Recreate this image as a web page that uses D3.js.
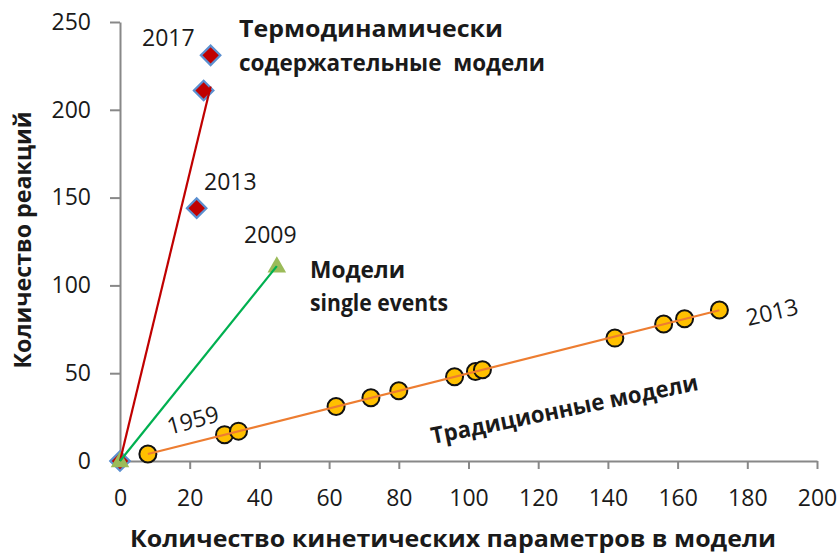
<!DOCTYPE html>
<html><head><meta charset="utf-8">
<script src="https://cdn.jsdelivr.net/npm/d3@7"></script>
<style>
body{margin:0;background:#fff}
text{font-family:"Open Sans","Noto Sans",sans-serif;fill:#1a1a1a;white-space:pre}
</style>
</head><body>
<svg id="c" width="839" height="554"></svg>
<script>
// ---- data ----
const xTicks = [0,20,40,60,80,100,120,140,160,180,200];
const yTicks = [0,50,100,150,200,250];
const tradX = [8,30,34,62,72,80,96,102,104,142,156,162,172];
const tradY = [4,15,17,31,36,40,48,51,52,70,78,81,86];
const thermoX = [0,22,24,26];
const thermoY = [0,144,211,231];
const singleX = [0,45];
const singleY = [0,111];
const xTitle = "Количество кинетических параметров в модели";
const yTitle = "Количество реакций";

const svg = d3.select("#c");
const x = d3.scaleLinear().domain([0,200]).range([120,817]);
const y = d3.scaleLinear().domain([0,250]).range([461,22]);
const axisColor = "#888888";

// axes
const gx = svg.append("g").attr("transform","translate(0,461)")
  .call(d3.axisBottom(x).tickValues(xTicks).tickSize(8).tickSizeOuter(0).tickPadding(21));
const gy = svg.append("g").attr("transform","translate(120,0)")
  .call(d3.axisLeft(y).tickValues(yTicks).tickSize(10).tickSizeOuter(0).tickPadding(19));
[gx,gy].forEach(g=>{
  g.select(".domain").attr("stroke",axisColor).attr("stroke-width",2);
  g.selectAll(".tick line").attr("stroke",axisColor).attr("stroke-width",2);
  g.selectAll(".tick text").attr("font-size",23).attr("fill","#1a1a1a")
    .attr("font-family","'Open Sans',sans-serif");
});

// regression through origin, drawn over series x-range
function trend(xs, ys){
  let sxy=0, sxx=0;
  xs.forEach((v,i)=>{sxy+=v*ys[i]; sxx+=v*v;});
  const k = sxy/sxx;
  const x0 = d3.min(xs), x1 = d3.max(xs);
  return [[x0,k*x0],[x1,k*x1]];
}
const line = d3.line().x(d=>x(d[0])).y(d=>y(d[1]));

// markers
const trad = tradX.map((v,i)=>[v,tradY[i]]);
const thermo = thermoX.map((v,i)=>[v,thermoY[i]]);
const single = singleX.map((v,i)=>[v,singleY[i]]);

svg.append("g").selectAll("circle").data(trad).join("circle")
  .attr("cx",d=>x(d[0])).attr("cy",d=>y(d[1])).attr("r",8.5)
  .attr("fill","#FFC000").attr("stroke","#111").attr("stroke-width",2);

const diamond = d3.symbol().type(d3.symbolSquare).size(190);
svg.append("g").selectAll("path").data(thermo).join("path")
  .attr("d",diamond())
  .attr("transform",d=>`translate(${x(d[0])},${y(d[1])}) rotate(45)`)
  .attr("fill","#C00000").attr("stroke","#5B8FD0").attr("stroke-width",2.2);

const tri = d3.symbol().type(d3.symbolTriangle).size(150);
svg.append("g").selectAll("path").data(single).join("path")
  .attr("d",tri())
  .attr("transform",d=>`translate(${x(d[0])},${y(d[1])+1})`)
  .attr("fill","#9BBB59");

// trend lines
svg.append("path").datum(trend(tradX,tradY)).attr("d",line)
  .attr("stroke","#ED7D31").attr("stroke-width",2.2).attr("fill","none");
svg.append("path").datum(trend(thermoX,thermoY)).attr("d",line)
  .attr("stroke","#C00000").attr("stroke-width",2.2).attr("fill","none");
svg.append("path").datum(single).attr("d",line)
  .attr("stroke","#00B050").attr("stroke-width",2.2).attr("fill","none");

// annotations
function txt(t,px,py,opts={}){
  const e = svg.append("text").attr("x",px).attr("y",py).text(t)
    .attr("font-size",opts.size||23)
    .attr("font-weight",opts.bold?"bold":"normal")
    .attr("text-anchor",opts.anchor||"start");
  if(opts.rot!==undefined) e.attr("transform",`rotate(${opts.rot},${px},${py})`);
  if(opts.len) e.attr("textLength",opts.len).attr("lengthAdjust","spacingAndGlyphs");
  return e;
}
txt("2017",142,46);
txt("2013",204,190);
txt("2009",244,243);
txt("Термодинамически",239,37,{bold:true,size:23,len:264});
txt("содержательные  модели",239,71,{bold:true,size:23,len:306});
txt("Модели",310,278,{bold:true,size:23,len:95});
txt("single events",310,311,{bold:true,size:23,len:138});
txt("1959",195,428,{anchor:"middle",rot:-15});
txt("2013",774,320,{anchor:"middle",rot:-13});
txt("Традиционные модели",566,417,{anchor:"middle",rot:-11.5,bold:true,size:23,len:272});

// axis titles
txt(xTitle,453,547,{anchor:"middle",bold:true,size:23,len:646});
svg.append("text").text(yTitle)
  .attr("transform","translate(31,240) rotate(-90)")
  .attr("text-anchor","middle").attr("font-weight","bold").attr("font-size",23)
  .attr("textLength",257).attr("lengthAdjust","spacingAndGlyphs");
</script>
</body></html>
